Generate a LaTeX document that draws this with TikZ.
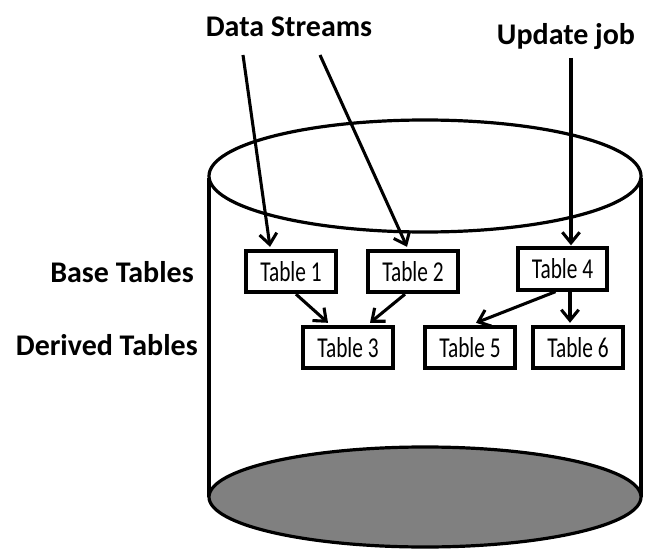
\documentclass[tikz,border=0pt]{standalone}
\usepackage{fontspec}
\usepackage{graphicx}
\setmainfont{Carlito}
\usetikzlibrary{arrows.meta,calc}

% table captions are set tall and narrow
\newcommand{\tallcaption}[1]{\scalebox{1}[1.35]{#1}}

\begin{document}
\begin{tikzpicture}[x=0.75pt,y=-0.75pt,
  tablebox/.style={draw,line width=3pt,rectangle,minimum width=67pt,minimum height=31pt,
    inner sep=0pt,font=\fontsize{16}{16}\selectfont},
  heading/.style={font=\bfseries\fontsize{22.5}{22.5}\selectfont,inner sep=0pt},
  cyl/.style={line width=2.4pt},
  flow/.style={line width=2.3pt,-{Straight Barb[length=8pt,width=13pt,line width=2.3pt]}}]
\useasboundingbox (0,0) rectangle (650,556);

% the store: a cylinder with a shaded floor
\draw[cyl] (209,178) -- (209,497);
\draw[cyl] (641,178) -- (641,497);
\draw[cyl,fill=gray] (425,497) ellipse [x radius=162pt, y radius=37.5pt];
\draw[cyl] (425,176) ellipse [x radius=162pt, y radius=42pt];

% headings
\node[heading] (ds) at (289,27) {Data Streams};
\node[heading] (up) at (566,37) {Update job};
\node[heading,anchor=east] (base) at (194,272) {Base Tables};
\node[heading,anchor=east] (derived) at (198,345) {Derived Tables};

% tables
\node[tablebox] (t1) at (291,271.5) {\tallcaption{Table 1}};
\node[tablebox] (t2) at (413,271.5) {\tallcaption{Table 2}};
\node[tablebox] (t4) at (562.5,269) {\tallcaption{Table 4}};
\node[tablebox] (t3) at (348,347.5) {\tallcaption{Table 3}};
\node[tablebox] (t5) at (470,347.5) {\tallcaption{Table 5}};
\node[tablebox] (t6) at (578,347.5) {\tallcaption{Table 6}};

% sources of the incoming lines
\coordinate (s1) at (243,55);
\coordinate (s2) at (320,55);
\coordinate (s4) at (571,58);

% feeds into the base tables
\draw[flow] (s1) -- ($(t1.north)+(-21,-2)$);
\draw[flow] (s2) -- ($(t2.north)+(-6,-2)$);
\draw[flow] (s4) -- ($(t4.north)+(8.5,-1)$);

% derivations
\draw[flow] ($(t1.south)+(5,0)$) -- ($(t3.north)+(-20,-2)$);
\draw[flow] ($(t2.south)+(-8,0)$) -- ($(t3.north)+(22,-2)$);
\draw[flow] ($(t4.south)+(-7,0)$) -- ($(t5.north)+(6,-2)$);
\draw[flow] ($(t4.south)+(7.5,0)$) -- ($(t6.north)+(-8,-2)$);
\end{tikzpicture}
\end{document}
